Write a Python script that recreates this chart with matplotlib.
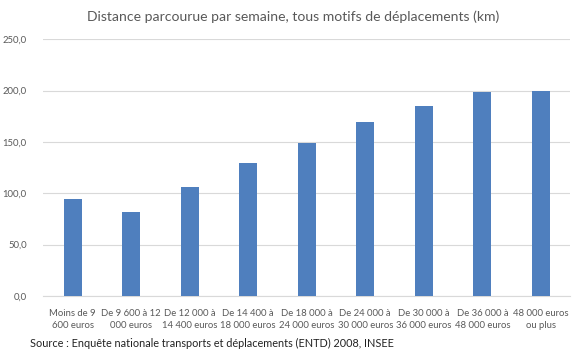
#!/usr/bin/env python3
import matplotlib
matplotlib.use("Agg")
import matplotlib.pyplot as plt

categories = [
    "Moins de 9\n600 euros",
    "De 9 600 à 12\n000 euros",
    "De 12 000 à\n14 400 euros",
    "De 14 400 à\n18 000 euros",
    "De 18 000 à\n24 000 euros",
    "De 24 000 à\n30 000 euros",
    "De 30 000 à\n36 000 euros",
    "De 36 000 à\n48 000 euros",
    "48 000 euros\nou plus",
]
distance_km = [94.2, 82.0, 106.0, 129.3, 149.0, 169.5, 185.0, 198.4, 199.2]
y_ticks = [0, 50, 100, 150, 200, 250]
y_tick_labels = ["0,0", "50,0", "100,0", "150,0", "200,0", "250,0"]

title = "Distance parcourue par semaine, tous motifs de déplacements (km)"
source = "Source : Enquête nationale transports et déplacements (ENTD) 2008, INSEE"

plt.rcParams['font.family'] = ['Lato', 'DejaVu Sans']
grey = '#595959'

fig = plt.figure(figsize=(5.8, 3.62), dpi=100)
ax = fig.add_axes([0.0747, 0.1823, 0.9083, 0.7091])

x = range(len(categories))
ax.bar(x, distance_km, width=0.31, color='#4f7fbe', zorder=3)

ax.set_xlim(-0.5, len(categories) - 0.5)
ax.set_ylim(0, 250)
ax.set_yticks(y_ticks)
ax.set_yticklabels(y_tick_labels)
ax.set_xticks(list(x))
ax.set_xticklabels(categories, linespacing=1.55)
ax.tick_params(axis='both', length=0, labelsize=6.8, colors=grey)
ax.tick_params(axis='y', pad=12)
ax.tick_params(axis='x', pad=9)
for lab in ax.get_yticklabels():
    lab.set_horizontalalignment('right')

ax.grid(axis='y', color='#d9d9d9', linewidth=0.8, zorder=0)
for side in ['top', 'right', 'left']:
    ax.spines[side].set_visible(False)
ax.spines['bottom'].set_color('#d9d9d9')
ax.spines['bottom'].set_linewidth(0.8)

fig.text(0.506, 0.953, title, ha='center', va='center', fontsize=10.1, color=grey)
fig.text(0.052, 0.05, source, ha='left', va='center', fontsize=7.8, color='#222222')

fig.savefig("out.png", dpi=100)
